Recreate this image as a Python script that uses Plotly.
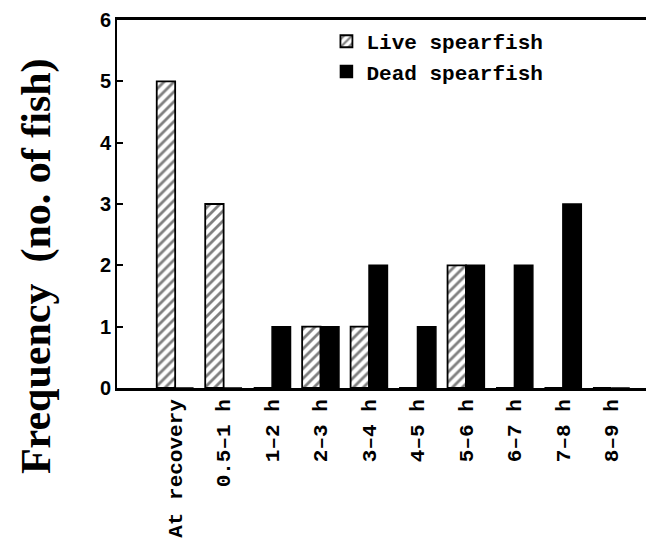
import plotly.graph_objects as go

categories = ["At recovery", "0.5–1 h", "1–2 h", "2–3 h", "3–4 h", "4–5 h",
              "5–6 h", "6–7 h", "7–8 h", "8–9 h"]
live_values = [5, 3, 0, 1, 1, 0, 2, 0, 0, 0]
dead_values = [0, 0, 1, 1, 2, 1, 2, 2, 3, 0]
y_ticks = [0, 1, 2, 3, 4, 5, 6]

mono = "Liberation Mono"

fig = go.Figure()
fig.add_trace(go.Bar(
    x=categories, y=live_values, name="Live spearfish",
    marker=dict(color="white", line=dict(color="black", width=1.8),
                pattern=dict(shape="/", fgcolor="black", bgcolor="white",
                             size=7, solidity=0.4)),
))
fig.add_trace(go.Bar(
    x=categories, y=dead_values, name="Dead spearfish",
    marker=dict(color="black", line=dict(color="black", width=1.5)),
))

fig.update_layout(
    width=646, height=532,
    margin=dict(l=109, r=0, t=12, b=152),
    paper_bgcolor="white", plot_bgcolor="white",
    barmode="group", bargap=0.24, bargroupgap=0,
    showlegend=True,
    legend=dict(x=0.39, y=0.997, xanchor="left", yanchor="top",
                font=dict(family=mono, size=21, color="black", weight="bold"),
                bgcolor="rgba(0,0,0,0)", tracegroupgap=0, itemwidth=30),
    xaxis=dict(
        type="category", range=[-1.2, 9.88],
        showline=True, linecolor="black", linewidth=2.5, mirror=True,
        ticks="", tickangle=-90,
        tickfont=dict(family=mono, size=21, color="black", weight="bold"),
        showgrid=False, zeroline=False,
    ),
    yaxis=dict(
        range=[0, 6], tickvals=y_ticks, ticklabeloverflow="allow",
        automargin=False,
        showline=True, linecolor="black", linewidth=2,
        ticks="inside", ticklen=6, tickwidth=1.5, tickcolor="black",
        tickfont=dict(family="Liberation Sans", size=20, color="black", weight="bold"),
        showgrid=False, zeroline=False,
    ),
    annotations=[dict(
        text="Frequency  (no. of fish)", xref="paper", yref="paper",
        x=-0.151, y=0.331, xanchor="center", yanchor="middle", textangle=-90,
        showarrow=False,
        font=dict(family="Liberation Serif", size=42, color="black", weight="bold"),
    )],
)

fig.write_html("out.html")
